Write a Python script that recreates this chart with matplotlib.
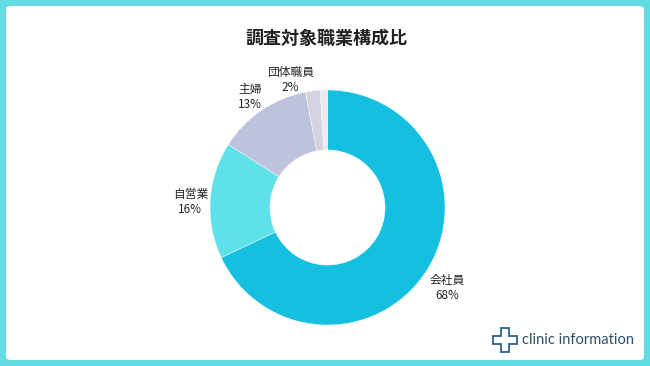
import numpy as np
import matplotlib
matplotlib.use("Agg")
import matplotlib.pyplot as plt
from matplotlib.patches import FancyBboxPatch, Polygon

plt.rcParams['font.family'] = ['Noto Sans CJK JP', 'DejaVu Sans']

# data
categories = ['会社員', '自営業', '主婦', '団体職員', '']
shares = [68, 16, 13, 2, 1]
colors = ['#14bfe0', '#5ee1e8', '#bfc2dc', '#d4d4e0', '#ede8ef']
title = '調査対象職業構成比'

W, H = 650, 366
fig = plt.figure(figsize=(W / 100, H / 100), dpi=100, facecolor='#62dce2')

# white card
card = FancyBboxPatch((6 / W, 6 / H), 638 / W, 354 / H,
                      boxstyle='round,pad=0,rounding_size=0.008',
                      transform=fig.transFigure, facecolor='white',
                      edgecolor='none', zorder=-5)
fig.patches.append(card)

fig.text(327 / W, 1 - 38 / H, title, ha='center', va='center',
         fontsize=13, fontweight='bold', color='#222222')

# donut
R = 117.5
cx, cy = 327.5, 207.5
span = 1.5
aw = 2 * span * R
ax = fig.add_axes([(cx - aw / 2) / W, (H - cy - aw / 2) / H, aw / W, aw / H])
ax.patch.set_alpha(0)

wedges, _ = ax.pie(shares, colors=colors, startangle=90, counterclock=False,
                   radius=1.0, wedgeprops=dict(width=0.51, edgecolor='white',
                                               linewidth=0.3))
ax.set_xlim(-span, span)
ax.set_ylim(-span, span)
ax.axis('off')
for w in wedges:
    w.set_clip_on(False)

# labels
offsets = {0: (0.03, -0.03), 3: (-0.17, -0.05)}
total = float(sum(shares))
acc = 0.0
for i, (name, v) in enumerate(zip(categories, shares)):
    mid = 90 - 360 * (acc + v / 2) / total
    acc += v
    if not name:
        continue
    r = 1.17
    x = r * np.cos(np.radians(mid))
    y = r * np.sin(np.radians(mid)) - 0.025
    dx, dy = offsets.get(i, (0, 0))
    ax.text(x + dx, y + dy, f'{name}\n{v}%', ha='center', va='center',
            fontsize=8.5, color='#262626', linespacing=1.2)

# logo
cross = [(0, 8), (8, 8), (8, 0), (16, 0), (16, 8), (24, 8), (24, 16),
         (16, 16), (16, 24), (8, 24), (8, 16), (0, 16)]
pts = [((493 + px) / W, 1 - (328 + py) / H) for px, py in cross]
fig.patches.append(Polygon(pts, closed=True, fill=False, edgecolor='#2f5f8a',
                           linewidth=1.3, transform=fig.transFigure))
fig.text(522 / W, 1 - 340 / H, 'clinic information', ha='left', va='center',
         fontsize=10.5, color='#2f4d6e', family=['Lato', 'DejaVu Sans'])

fig.savefig('out.png', dpi=100, facecolor=fig.get_facecolor())
